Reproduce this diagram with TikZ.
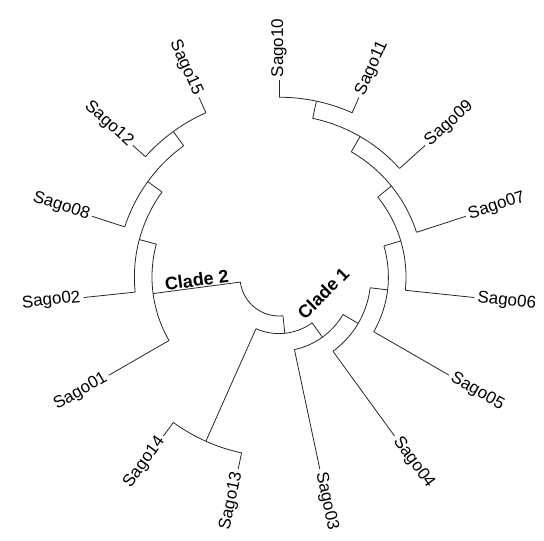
\documentclass[tikz,border=0pt]{standalone}
\usepackage{fontspec}
\setmainfont{Liberation Sans}
\tikzset{
  branch/.style={draw=black!85, line width=0.8pt},
  taxon/.style={font=\fontsize{17}{17}\selectfont, inner sep=1.5pt},
  clade/.style={font=\fontsize{18}{18}\selectfont\bfseries, inner sep=1pt}
}

\begin{document}
\begin{tikzpicture}[x=1pt,y=1pt]
  \useasboundingbox (-279,-264) rectangle (265,277);
  % leaves: name/angle/base radius/label rotation/anchor
  \foreach \n/\a/\r/\rot/\anc in {10/90/179.8/90/west, 11/66/179.8/66/west,
      09/42/162.2/42/west, 07/18/144.6/18/west, 06/-6/127/-6/west,
      05/-30/109.4/-30/west, 04/-54/91.8/-54/west, 03/-78/74.2/-78/west,
      13/-102/179.8/78/east, 14/-126/179.8/54/east, 01/-150/127/30/east,
      02/-174/144.6/6/east, 08/162/162.2/-18/east, 12/138/179.8/-42/east,
      15/114/179.8/-66/east} {
    \coordinate (b\n) at (\a:\r);
    \coordinate (t\n) at (\a:196.5);
    \draw[branch] (b\n) -- (t\n);
    \node[taxon, rotate=\rot, anchor=\anc] (l\n) at (\a:198) {Sago\n};
  }
  % inner nodes: name/angle/parent radius/radius
  \foreach \n/\a/\p/\r in {E/78/162.2/179.8, F/60/144.6/162.2, G/39/127/144.6,
      H/16.5/109.4/127, I/-6.75/91.8/109.4, J/-30.375/74.2/91.8,
      K/-54.1875/56.6/74.2, M/-114/56.6/179.8, L/-84.09375/39/56.6,
      A/126/162.2/179.8, B/144/144.6/162.2, C/165/127/144.6, D/187.5/39/127} {
    \coordinate (\n) at (\a:\r);
    \coordinate (\n0) at (\a:\p);
    \draw[branch] (\n0) -- (\n);
  }
  % arcs joining the children
  \foreach \s/\a/\b/\r in {b10/90/66/179.8, E0/78/42/162.2, F0/60/18/144.6,
      G0/39/-6/127, H0/16.5/-30/109.4, I0/-6.75/-54/91.8, J0/-30.375/-78/74.2,
      b13/-102/-126/179.8, K0/-54.1875/-114/56.6, b15/114/138/179.8,
      A0/126/162/162.2, B0/144/186/144.6, C0/165/210/127, D0/187.5/275.90625/39}
    \draw[branch] (\s) arc[start angle=\a, end angle=\b, radius=\r pt];
  \node[clade, rotate=7.5, anchor=south] (c2) at (187.5:82) {Clade 2};
  \node[clade, rotate=45] (c1) at (-20:47) {Clade 1};
\end{tikzpicture}
\end{document}
